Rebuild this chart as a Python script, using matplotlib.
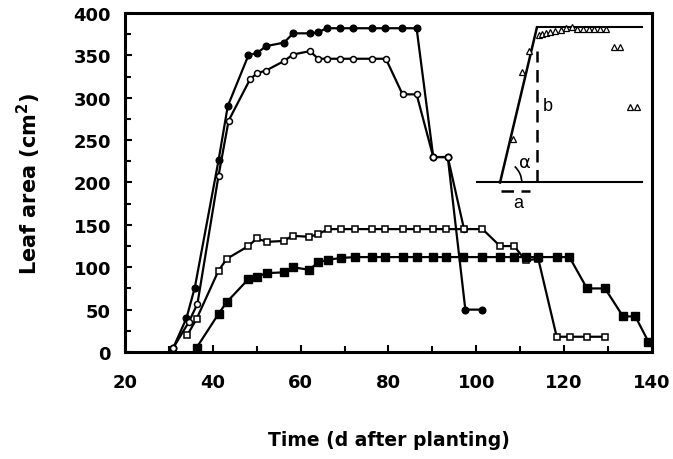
import matplotlib
matplotlib.use("Agg")
import matplotlib.pyplot as plt
from matplotlib.patches import Arc

plt.rcParams['font.family'] = ['DejaVu Sans']
plt.rcParams['font.weight'] = 'bold'
plt.rcParams['mathtext.fontset'] = 'dejavusans'

# ---- data ----
fc_x = [31.0, 34.0, 35.9, 41.3, 43.4, 48.1, 50.1, 52.2, 56.2, 58.3, 62.1, 63.9, 65.9,
        69.0, 72.0, 76.2, 79.2, 83.0, 86.4, 90.2, 93.5, 97.5, 101.3]
fc_y = [5, 40, 76, 226, 290, 350, 353, 361, 365, 376, 376, 377, 382,
        382, 382, 382, 382, 382, 382, 230, 230, 50, 50]

oc_x = [31.0, 34.5, 36.5, 41.3, 43.6, 48.5, 50.1, 52.1, 56.1, 58.3, 62.1, 64.0, 65.9,
        69.0, 72.0, 76.2, 79.4, 83.2, 86.4, 90.2, 93.5, 97.2]
oc_y = [5, 35, 57, 208, 273, 322, 329, 332, 343, 351, 355, 346, 346,
        346, 346, 346, 346, 304, 304, 230, 230, 145]

os_x = [34.2, 36.3, 41.3, 43.2, 48.1, 50.0, 52.3, 56.1, 58.2, 62.0, 64.0, 66.3, 69.3,
        72.4, 76.2, 79.2, 83.4, 86.4, 90.2, 93.2, 97.2, 101.4, 105.4, 108.6, 111.2,
        114.1, 118.3, 121.3, 125.2, 129.3]
os_y = [20, 39, 96, 110, 125, 134, 130, 131, 137, 136, 139, 145, 145,
        145, 145, 145, 145, 145, 145, 145, 145, 145, 125, 125, 108,
        110, 18, 18, 18, 18]

fs_x = [36.3, 41.3, 43.2, 48.1, 50.0, 52.3, 56.1, 58.2, 62.0, 64.0, 66.3, 69.3, 72.4,
        76.2, 79.2, 83.4, 86.4, 90.2, 93.2, 96.9, 101.3, 105.4, 108.5, 111.2, 114.1,
        118.3, 121.2, 125.2, 129.3, 133.4, 136.2, 139.2]
fs_y = [5, 45, 59, 86, 89, 93, 94, 100, 97, 106, 109, 111, 112,
        112, 112, 112, 112, 112, 112, 112, 112, 112, 112, 112, 112,
        112, 112, 75, 75, 42, 42, 12]

# inset schematic (data coordinates of the main axes)
tri_x = [108.3, 110.4, 112.0, 114.2, 115.0, 115.8, 116.8, 118.0, 119.2, 120.5, 121.8,
         123.0, 124.3, 125.6, 126.9, 128.2, 129.5, 131.4, 132.8, 135.1, 136.6]
tri_y = [251, 330, 355, 374, 375, 376, 378, 379, 380, 382, 383,
         381, 381, 381, 381, 381, 381, 360, 360, 289, 289]
base_x = [100.1, 137.7]
base_y = [200, 200]
top_x = [113.8, 137.7]
top_y = [383, 383]
slant_x = [105.4, 113.8]
slant_y = [200, 383]

xticks = [20, 40, 60, 80, 100, 120, 140]
yticks = [0, 50, 100, 150, 200, 250, 300, 350, 400]

fig = plt.figure(figsize=(6.73, 4.60), dpi=100)
ax = fig.add_axes([0.1857, 0.2326, 0.7831, 0.737])

lw = 1.6
ax.plot(fc_x, fc_y, '-o', color='black', lw=lw, ms=4.8, mfc='black', mec='black', zorder=3)
ax.plot(oc_x, oc_y, '-o', color='black', lw=lw, ms=4.3, mfc='white', mec='black', mew=1.1, zorder=3)
ax.plot(os_x, os_y, '-s', color='black', lw=lw, ms=4.8, mfc='white', mec='black', mew=1.1, zorder=3)
ax.plot(fs_x, fs_y, '-s', color='black', lw=lw, ms=5.5, mfc='black', mec='black', zorder=4)

# inset diagram
ax.plot(base_x, base_y, '-', color='black', lw=1.5)
ax.plot(top_x, top_y, '-', color='black', lw=1.5)
ax.plot(slant_x, slant_y, '-', color='black', lw=1.8)
ax.plot([113.9, 113.9], [200, 355], '--', color='black', lw=1.8, dashes=(5, 3))
ax.plot([105.6, 112.3], [189.6, 189.6], '--', color='black', lw=1.8, dashes=(5, 3))
ax.plot(tri_x, tri_y, '^', ls='none', ms=4.5, mfc='white', mec='black', mew=0.9, zorder=5)
arc = Arc((105.4, 200), width=2 * 21.7 / 4.39, height=2 * 21.7 / 0.8475,
          theta1=0, theta2=80, color='black', lw=1.2)
ax.add_patch(arc)
ax.text(109.6, 176, 'a', fontsize=13, fontweight='normal', ha='center', va='center',
        family=['Liberation Sans'])
ax.text(116.3, 291, 'b', fontsize=13, fontweight='normal', ha='center', va='center',
        family=['Liberation Sans'])
ax.text(111.0, 224, 'α', fontsize=13, fontweight='normal', ha='center', va='center')

ax.set_xlim(20, 140)
ax.set_ylim(0, 400)
ax.set_xticks(xticks)
ax.set_xticks(range(30, 140, 20), minor=True)
ax.set_yticks(yticks)
ax.set_yticks(range(25, 400, 50), minor=True)
ax.tick_params(axis='both', which='both', direction='in', width=1.5)
ax.tick_params(axis='both', which='major', length=5, labelsize=13)
ax.tick_params(axis='both', which='minor', length=4)
ax.tick_params(axis='x', which='major', pad=15)
ax.tick_params(axis='y', which='major', pad=10)
for lab in ax.get_xticklabels() + ax.get_yticklabels():
    lab.set_fontweight('bold')
for s in ax.spines.values():
    s.set_linewidth(2.2)

ax.set_xlabel('Time (d after planting)', fontsize=13.5, fontweight='bold', labelpad=28)
ax.set_ylabel('Leaf area (cm$^{\\mathbf{2}}$)', fontsize=15, fontweight='bold', labelpad=22)

fig.savefig('out.png', dpi=100)
